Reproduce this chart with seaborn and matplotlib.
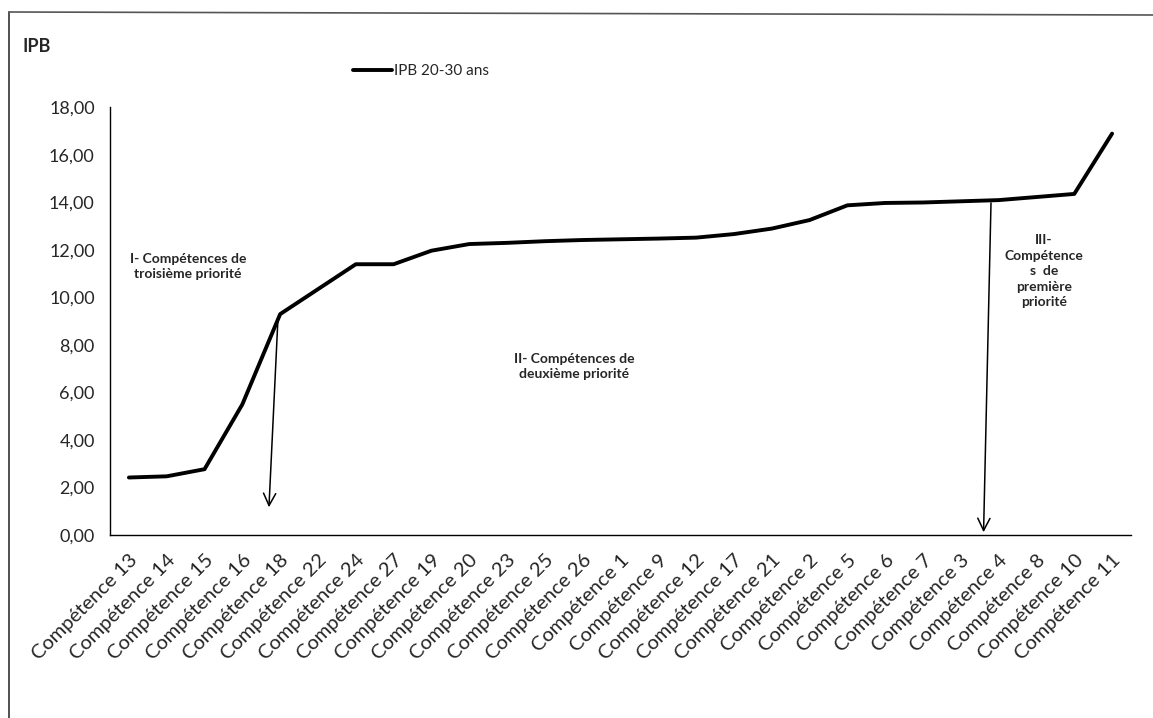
import pandas as pd
import matplotlib.pyplot as plt
import seaborn as sns
from matplotlib.lines import Line2D
from matplotlib.ticker import FixedLocator, FuncFormatter


# DATA
competences = ['Compétence 13', 'Compétence 14', 'Compétence 15', 'Compétence 16',
               'Compétence 18', 'Compétence 22', 'Compétence 24', 'Compétence 27',
               'Compétence 19', 'Compétence 20', 'Compétence 23', 'Compétence 25',
               'Compétence 26', 'Compétence 1', 'Compétence 9', 'Compétence 12',
               'Compétence 17', 'Compétence 21', 'Compétence 2', 'Compétence 5',
               'Compétence 6', 'Compétence 7', 'Compétence 3', 'Compétence 4',
               'Compétence 8', 'Compétence 10', 'Compétence 11']
ipb_20_30 = [2.42, 2.47, 2.77, 5.50, 9.30, 10.35, 11.40, 11.40,
             11.97, 12.25, 12.30, 12.37, 12.42, 12.45, 12.48, 12.52,
             12.67, 12.90, 13.26, 13.88, 13.98, 14.00, 14.05, 14.10,
             14.23, 14.36, 16.90]
y_ticks = [0, 2, 4, 6, 8, 10, 12, 14, 16, 18]

df = pd.DataFrame({'competence': competences, 'ipb': ipb_20_30})

# STYLE
sns.set_style('white')
plt.rcParams['font.family'] = ['Lato', 'DejaVu Sans']

fig = plt.figure(figsize=(11.53, 7.18), dpi=100)
ax = fig.add_axes([0.0954, 0.2549, 0.8855, 0.5954])

sns.lineplot(data=df, x='competence', y='ipb', sort=False, color='black',
             linewidth=2.8, label='IPB 20-30 ans', ax=ax)

# Axes (Excel style: ticks between categories)
n = len(competences)
ax.set_xlim(-0.5, n - 0.5)
ax.set_ylim(0, 18)
ax.xaxis.set_major_locator(FixedLocator(range(n)))
ax.xaxis.set_minor_locator(FixedLocator([i - 0.5 for i in range(n + 1)]))
ax.set_xticks(range(n))
ax.set_xticklabels(competences, rotation=45, ha='right', va='top',
                   rotation_mode='anchor', fontsize=14.5)
ax.tick_params(axis='x', which='major', length=0, pad=12)
ax.tick_params(axis='x', which='minor', length=6, width=1, color='black', direction='out')
ax.set_yticks(y_ticks)
ax.yaxis.set_major_formatter(FuncFormatter(lambda v, p: f'{v:.2f}'.replace('.', ',')))
ax.tick_params(axis='y', length=5, width=1, color='black', direction='out',
               labelsize=13, pad=6)
ax.set_xlabel('')
ax.set_ylabel('')

for side in ['top', 'right']:
    ax.spines[side].set_visible(False)
for side in ['left', 'bottom']:
    ax.spines[side].set_color('black')
    ax.spines[side].set_linewidth(1)

# Arrows marking the priority groups
arrow_kw = dict(arrowstyle='->', color='black', lw=1.1, mutation_scale=22)
ax.annotate('', xy=(3.70, 1.05), xytext=(3.94, 9.05), arrowprops=arrow_kw)
ax.annotate('', xy=(22.60, 0.0), xytext=(22.80, 14.10), arrowprops=arrow_kw)

# Group labels
ax.text(1.56, 11.3, 'I- Compétences de\ntroisième priorité', ha='center', va='center',
        fontsize=10, fontweight='bold', linespacing=1.35)
ax.text(11.77, 7.1, 'II- Compétences de\ndeuxième priorité', ha='center', va='center',
        fontsize=10, fontweight='bold', linespacing=1.35)
ax.text(24.2, 11.1, 'III-\nCompétence\ns  de\npremière\npriorité', ha='center',
        va='center', fontsize=10, fontweight='bold', linespacing=1.35)

# Legend and axis title
ax.legend(loc='center left', bbox_to_anchor=(353 / 1153, 1 - 71 / 718),
          bbox_transform=fig.transFigure, frameon=False, fontsize=11,
          handlelength=2.55, handletextpad=0.15, borderpad=0, borderaxespad=0)
fig.text(23 / 1153, 1 - 47 / 718, 'IPB', ha='left', va='center',
         fontsize=13, fontweight='bold')

# Chart border (scanned frame)
fig.add_artist(Line2D([9 / 1153, 9 / 1153], [0, 1 - 12 / 718], color='#333333', lw=1.2))
fig.add_artist(Line2D([9 / 1153, 1], [1 - 12 / 718, 1 - 15 / 718], color='#555555', lw=1.2))

fig.savefig('out.png', dpi=100)
